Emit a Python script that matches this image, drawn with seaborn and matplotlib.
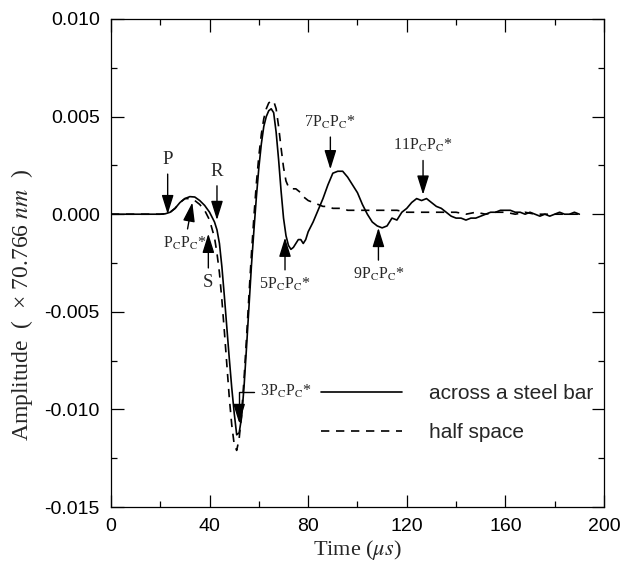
import numpy as np
import pandas as pd
import matplotlib
matplotlib.use("Agg")
import matplotlib.pyplot as plt
from matplotlib.ticker import MultipleLocator, FormatStrFormatter
import seaborn as sns

# time axis (microseconds) and amplitudes
t_bar = [0, 10, 20, 22, 24, 26, 28, 30, 32, 34, 36, 38, 40, 42, 43, 44, 45, 46, 47, 48,
         49, 50, 51, 52, 53, 54, 55, 56, 57, 58, 59, 60, 61, 62, 63, 64, 65, 66, 67, 68,
         69, 70, 71, 72, 73, 74, 75, 76, 77, 78, 79, 80, 82, 84, 86, 88, 90, 92, 94, 96,
         98, 100, 102, 104, 106, 108, 110, 112, 114, 116, 118, 120, 122, 124, 126, 128,
         130, 132, 134, 136, 138, 140, 142, 144, 146, 148, 150, 152, 154, 156, 158, 160,
         162, 164, 166, 168, 170, 172, 174, 176, 178, 180, 182, 184, 186, 188, 190]
amp_bar = [0, 0, 0, 0.00002, 0.0001, 0.0003, 0.0006, 0.0008, 0.0009, 0.00088, 0.0007,
           0.00045, 0.0001, -0.0004, -0.0008, -0.0015, -0.0027, -0.0042, -0.0058, -0.0074,
           -0.0089, -0.0102, -0.0113, -0.0112, -0.0104, -0.0088, -0.0068, -0.0047, -0.0026,
           -0.0008, 0.0009, 0.0024, 0.0036, 0.0045, 0.0050, 0.0053, 0.0054, 0.0052, 0.0042,
           0.0028, 0.0012, -0.0002, -0.0011, -0.0016, -0.0018, -0.0017, -0.0015, -0.0013,
           -0.0013, -0.0015, -0.0013, -0.0009, -0.0004, 0.0002, 0.0008, 0.0015, 0.0021,
           0.0022, 0.0022, 0.0019, 0.0015, 0.0011, 0.0005, 0.0000, -0.0004, -0.0006, -0.0007,
           -0.0006, -0.0002, -0.0003, 0.0001, 0.0003, 0.0006, 0.0008, 0.0007, 0.0008, 0.0006,
           0.0004, 0.0003, 0.0001, -0.0001, -0.0002, -0.0002, -0.0003, -0.0002, -0.0002,
           -0.0001, 0.0000, 0.0001, 0.0001, 0.0002, 0.0002, 0.0002, 0.0001, 0.0001, 0.0000,
           0.0001, 0.0000, -0.0001, 0.0000, -0.0001, 0.0000, 0.0001, 0.0000, 0.0000, 0.0001,
           0.0000]

t_half = [0, 20, 22, 24, 26, 28, 30, 32, 34, 36, 38, 40, 42, 43, 44, 45, 46, 47, 48, 49,
          50, 51, 52, 53, 54, 55, 56, 57, 58, 59, 60, 61, 62, 63, 64, 65, 66, 67, 68, 69,
          70, 71, 72, 73, 74, 75, 76, 77, 78, 80, 82, 84, 86, 88, 90, 92, 94, 96, 98, 100,
          104, 108, 112, 116, 120, 124, 128, 132, 136, 140, 144, 148, 152, 156, 160, 164,
          168, 172, 176, 180, 184, 188, 190]
amp_half = [0, 0, 0.00002, 0.0001, 0.0003, 0.0006, 0.0008, 0.0008, 0.0007, 0.0005, 0.0002,
            -0.0003, -0.0012, -0.0020, -0.0030, -0.0044, -0.0060, -0.0077, -0.0094, -0.0108,
            -0.0118, -0.0121, -0.0115, -0.0102, -0.0084, -0.0063, -0.0041, -0.0020, -0.0001,
            0.0016, 0.0030, 0.0041, 0.0049, 0.0054, 0.0057, 0.0058, 0.0058, 0.0054, 0.0045,
            0.0034, 0.0024, 0.0017, 0.0014, 0.0013, 0.0013, 0.0013, 0.0012, 0.0011, 0.0009,
            0.0007, 0.0006, 0.0005, 0.0004, 0.0004, 0.0003, 0.0003, 0.0003, 0.0002, 0.0002,
            0.0002, 0.0002, 0.0002, 0.0002, 0.0002, 0.0001, 0.0001, 0.0001, 0.0001, 0.0001,
            0.0001, 0.0000, 0.0001, 0.0000, 0.0001, 0.0001, 0.0000, 0.0001, 0.0000, 0.0000,
            0.0000, 0.0000, 0.0000, 0.0000]

series_names = ["across a steel bar", "half space"]

# annotations: label, arrow tip (t, amp), text position (t, amp)
PC = r"P$_\mathrm{C}$P$_\mathrm{C}$*"
down_marks = [("P", (23, 0.0000), (23, 0.0028)),
              ("R", (43, -0.0003), (43, 0.0022)),
              ("7" + PC, (89, 0.0023), (89, 0.0047)),
              ("11" + PC, (126.6, 0.0010), (126.6, 0.0035))]
up_marks = [(PC, (33, 0.0006), (30, -0.0015)),
            ("S", (39.5, -0.0010), (39.5, -0.0035)),
            ("5" + PC, (70.6, -0.0012), (70.6, -0.0036)),
            ("9" + PC, (108.5, -0.0007), (108.5, -0.0031))]
bracket_mark = ("3" + PC, (52, -0.0107), (60.4, -0.0091))

df = pd.concat([
    pd.DataFrame({"t": t_bar, "amp": amp_bar, "case": series_names[0]}),
    pd.DataFrame({"t": t_half, "amp": amp_half, "case": series_names[1]}),
])

sns.set_style("ticks")
plt.rcParams["font.family"] = ["Liberation Sans", "DejaVu Sans"]
plt.rcParams["mathtext.fontset"] = "stix"
plt.rcParams["axes.unicode_minus"] = False

fig = plt.figure(figsize=(6.21, 5.67), dpi=100)
ax = fig.add_axes([0.1787, 0.1058, 0.7939, 0.8607])

sns.lineplot(data=df[df["case"] == series_names[0]], x="t", y="amp", ax=ax,
             color="black", lw=1.2, label=series_names[0])
sns.lineplot(data=df[df["case"] == series_names[1]], x="t", y="amp", ax=ax,
             color="black", lw=1.2, linestyle=(0, (5, 4)), label=series_names[1])

ax.set_xlim(0, 200)
ax.set_ylim(-0.015, 0.010)
ax.xaxis.set_major_locator(MultipleLocator(40))
ax.xaxis.set_minor_locator(MultipleLocator(20))
ax.yaxis.set_major_locator(MultipleLocator(0.005))
ax.yaxis.set_minor_locator(MultipleLocator(0.0025))
ax.yaxis.set_major_formatter(FormatStrFormatter("%.3f"))
ax.tick_params(which="both", direction="in", top=True, right=True, labelsize=14,
               width=0.9, colors="black")
ax.tick_params(which="major", length=9, pad=8)
ax.tick_params(which="minor", length=4.5)
for s in ax.spines.values():
    s.set_linewidth(0.9)
    s.set_color("black")

ax.set_xlabel(r"Time ($\mu s$)", fontfamily="Liberation Serif", fontsize=16, labelpad=2)
ax.set_ylabel("Amplitude  (  \u00d7 70.766 $nm$  )", fontfamily="Liberation Serif",
              fontsize=17)
ax.yaxis.set_label_coords(-0.155, 0.415)

arrow = dict(arrowstyle="-|>,head_length=0.9,head_width=0.28", color="black", lw=1,
             shrinkA=2, shrinkB=0, mutation_scale=13)
for lab, tip, txt in down_marks + up_marks:
    ax.annotate(lab, xy=tip, xytext=txt, ha="center", va="center",
                fontsize=13.5 if len(lab) == 1 else 11.5,
                fontfamily="Liberation Serif", arrowprops=arrow)
lab, tip, txt = bracket_mark
ax.annotate(lab, xy=tip, xytext=txt, ha="left", va="center", fontsize=11.5,
            fontfamily="Liberation Serif",
            arrowprops=dict(arrow, connectionstyle="angle,angleA=0,angleB=90,rad=0"))

ax.legend(loc="upper left", bbox_to_anchor=(0.426, 0.2516), frameon=False, fontsize=15,
          handlelength=3.9, handletextpad=1.3, labelspacing=0.94, borderpad=0,
          borderaxespad=0)

fig.savefig("out.png", dpi=100)
